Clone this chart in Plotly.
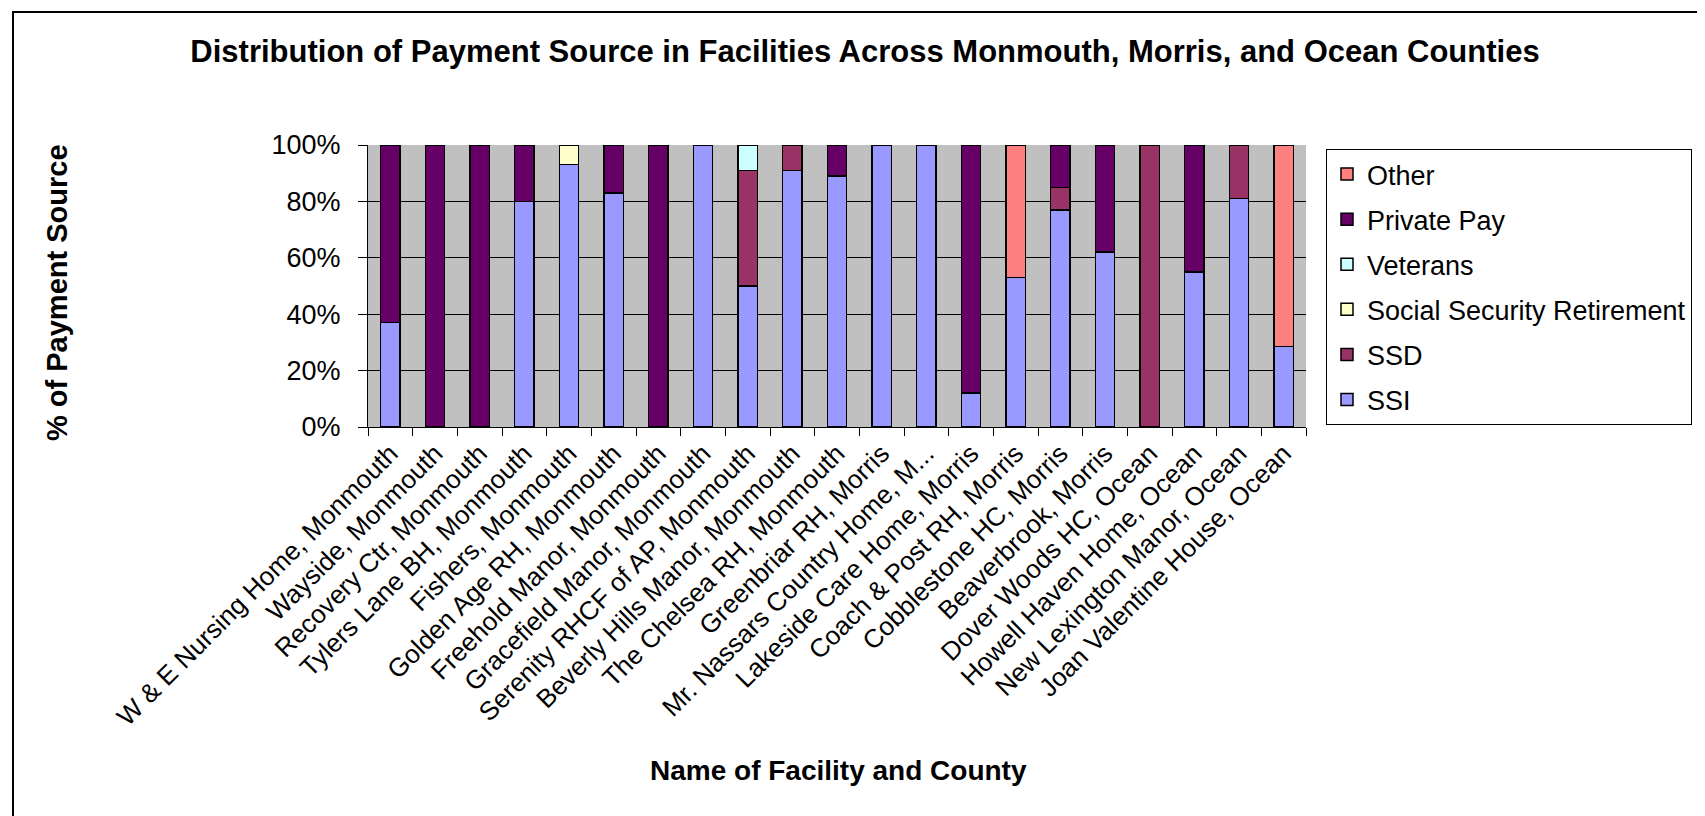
import plotly.graph_objects as go

facilities = [
    "W & E Nursing Home, Monmouth", "Wayside, Monmouth", "Recovery Ctr, Monmouth",
    "Tylers Lane BH, Monmouth", "Fishers, Monmouth", "Golden Age RH, Monmouth",
    "Freehold Manor, Monmouth", "Gracefield Manor, Monmouth", "Serenity RHCF of AP, Monmouth",
    "Beverly Hills Manor, Monmouth", "The Chelsea RH, Monmouth", "Greenbriar RH, Morris",
    "Mr. Nassars Country Home, M...", "Lakeside Care Home, Morris", "Coach & Post RH, Morris",
    "Cobblestone HC, Morris", "Beaverbrook, Morris", "Dover Woods HC, Ocean",
    "Howell Haven Home, Ocean", "New Lexington Manor, Ocean", "Joan Valentine House, Ocean",
]

ssi =         [37, 0, 0, 80, 93, 83, 0, 100, 50, 91, 89, 100, 100, 12, 53, 77, 62, 0, 55, 81, 28.5]
ssd =         [0, 0, 0, 0, 0, 0, 0, 0, 41, 9, 0, 0, 0, 0, 0, 8, 0, 100, 0, 19, 0]
ss_ret =      [0, 0, 0, 0, 7, 0, 0, 0, 0, 0, 0, 0, 0, 0, 0, 0, 0, 0, 0, 0, 0]
veterans =    [0, 0, 0, 0, 0, 0, 0, 0, 9, 0, 0, 0, 0, 0, 0, 0, 0, 0, 0, 0, 0]
private_pay = [63, 100, 100, 20, 0, 17, 100, 0, 0, 0, 11, 0, 0, 88, 0, 15, 38, 0, 45, 0, 0]
other =       [0, 0, 0, 0, 0, 0, 0, 0, 0, 0, 0, 0, 0, 0, 47, 0, 0, 0, 0, 0, 71.5]

series = [
    ("SSI", ssi, "#9999FF"),
    ("SSD", ssd, "#993366"),
    ("Social Security Retirement", ss_ret, "#FFFFCC"),
    ("Veterans", veterans, "#CCFFFF"),
    ("Private Pay", private_pay, "#660066"),
    ("Other", other, "#FF8080"),
]

FONT = "Arial, 'Liberation Sans', sans-serif"

fig = go.Figure()
n = len(series)
for i, (name, vals, color) in enumerate(series):
    fig.add_trace(go.Bar(
        x=facilities, y=vals, name=name, legendgroup=name, legendrank=n - i,
        marker=dict(color=color, line=dict(color="black", width=1.5)),
    ))

W, H = 1705, 816
L, R, T, B = 360, 1298, 137, 419
pw, ph = R - L, B - T

def px_x(x):
    return (x - L) / pw

def px_y(y):
    return (B - y) / ph

fig.update_layout(
    width=W, height=H,
    margin=dict(l=L, r=W - R, t=T, b=H - B, autoexpand=False),
    barmode="stack", bargap=0.57,
    plot_bgcolor="#C0C0C0", paper_bgcolor="white",
    font=dict(family=FONT, color="black", size=26),
    title=dict(
        text="<b>Distribution of Payment Source in Facilities Across Monmouth, Morris, and Ocean Counties</b>",
        x=857 / W, xanchor="center", xref="container",
        y=1 - 43 / H, yanchor="middle", yref="container",
        font=dict(size=31, family=FONT, color="black"),
    ),
    legend=dict(
        x=px_x(1318), xanchor="left", y=px_y(141), yanchor="top",
        bordercolor="black", borderwidth=1, bgcolor="white",
        font=dict(size=27, family=FONT), traceorder="grouped",
        tracegroupgap=7,
    ),
    xaxis=dict(
        type="category", tickangle=-45, showgrid=False,
        ticks="outside", tickson="boundaries", ticklen=8, tickcolor="black",
        showline=True, linecolor="black", linewidth=1,
        tickfont=dict(size=26, family=FONT),
    ),
    yaxis=dict(
        range=[0, 100], dtick=20, ticksuffix="%",
        showgrid=True, gridcolor="black", gridwidth=1,
        ticks="outside", ticklen=9, tickcolor="black",
        showline=True, linecolor="black", linewidth=1,
        tickfont=dict(size=27, family=FONT), zeroline=False,
        ticklabelstandoff=12,
    ),
    showlegend=True,
    annotations=[
        dict(text="<b>% of Payment Source</b>", xref="paper", yref="paper",
             x=px_x(49), y=px_y(285), textangle=-90, showarrow=False,
             xanchor="center", yanchor="middle", font=dict(size=29, family=FONT)),
        dict(text="<b>Name of Facility and County</b>", xref="paper", yref="paper",
             x=px_x(830), y=px_y(762), showarrow=False,
             xanchor="center", yanchor="middle", font=dict(size=28, family=FONT)),
    ],
    shapes=[
        dict(type="rect", xref="paper", yref="paper",
             x0=px_x(5), x1=px_x(1702), y0=px_y(814), y1=px_y(4),
             line=dict(color="black", width=2), fillcolor="rgba(0,0,0,0)", layer="below"),
    ],
)

fig.write_html("out.html")
